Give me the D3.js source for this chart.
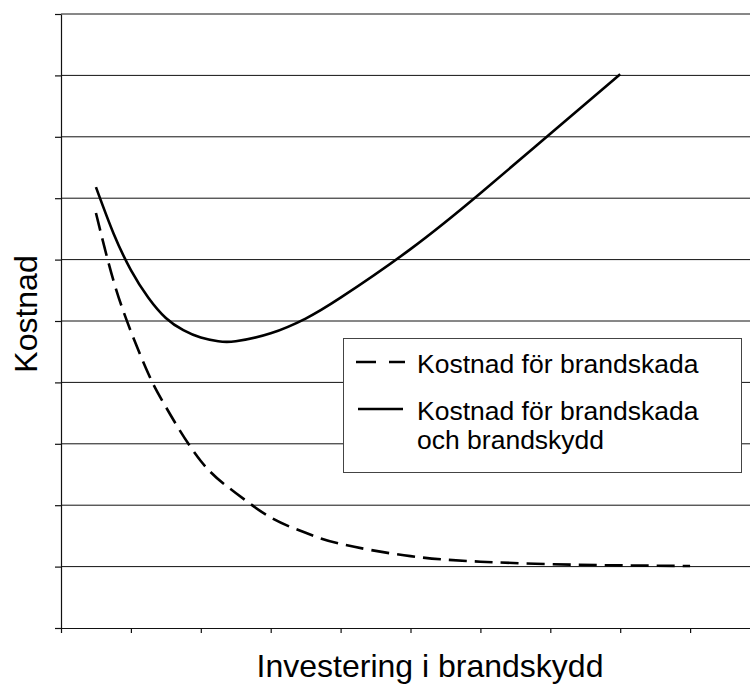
<!DOCTYPE html>
<html>
<head>
<meta charset="utf-8">
<script src="https://cdn.jsdelivr.net/npm/d3@7"></script>
<style>
  html, body { margin: 0; padding: 0; background: #fff; }
  svg { display: block; font-family: "Liberation Sans", Arial, sans-serif; }
</style>
</head>
<body>
<div id="chart"></div>
<script>
// Values (arbitrary units, no tick labels in the original)
const damageX = [0.5, 0.75, 1, 1.25, 1.5, 2, 2.5, 3, 3.5, 4, 5, 6, 7, 8, 9];
const damageY = [6.76, 5.66, 4.83, 4.14, 3.6, 2.72, 2.2, 1.8, 1.55, 1.37, 1.17, 1.08, 1.04, 1.02, 1.01];

const totalX = [0.5, 0.75, 1, 1.25, 1.5, 1.75, 2, 2.25, 2.5, 3, 3.5, 4, 5, 6, 7, 8];
const totalY = [7.18, 6.43, 5.83, 5.38, 5.05, 4.85, 4.73, 4.67, 4.67, 4.8, 5.04, 5.38, 6.17, 7.08, 8.05, 9.02];

const xTicks = [0, 1, 2, 3, 4, 5, 6, 7, 8, 9];
const yTicks = [0, 1, 2, 3, 4, 5, 6, 7, 8, 9, 10];

const legendLabels = [["Kostnad för brandskada"], ["Kostnad för brandskada", "och brandskydd"]];
const xTitle = "Investering i brandskydd";
const yTitle = "Kostnad";

const width = 750, height = 688;
const svg = d3.select("#chart").append("svg")
    .attr("width", width)
    .attr("height", height);

const x = d3.scaleLinear().domain([0, 10]).range([61, 760]);
const y = d3.scaleLinear().domain([0, 10]).range([628, 14]);

// Horizontal gridlines
svg.append("g")
    .selectAll("line")
    .data(yTicks.slice(1))
    .enter()
    .append("line")
    .attr("x1", x(0))
    .attr("x2", width)
    .attr("y1", d => y(d))
    .attr("y2", d => y(d))
    .attr("stroke", "#111")
    .attr("stroke-width", 1);

// Axes (ticks only, no labels)
const xAxis = svg.append("g")
    .attr("transform", `translate(0,${y(0)})`)
    .call(d3.axisBottom(x).tickValues(xTicks).tickFormat("").tickSize(5).tickSizeOuter(0));
const yAxis = svg.append("g")
    .attr("transform", `translate(${x(0)},0)`)
    .call(d3.axisLeft(y).tickValues(yTicks).tickFormat("").tickSize(6).tickSizeOuter(0));
[xAxis, yAxis].forEach(a => {
    a.selectAll("path, line").attr("stroke", "#111").attr("stroke-width", 1.2);
});

const line = d3.line()
    .x(d => x(d[0]))
    .y(d => y(d[1]))
    .curve(d3.curveNatural);

svg.append("path")
    .datum(d3.zip(damageX, damageY))
    .attr("d", line)
    .attr("fill", "none")
    .attr("stroke", "#000")
    .attr("stroke-width", 2.6)
    .attr("stroke-dasharray", "18,8");

svg.append("path")
    .datum(d3.zip(totalX, totalY))
    .attr("d", line)
    .attr("fill", "none")
    .attr("stroke", "#000")
    .attr("stroke-width", 2.6);

// Legend
const legend = svg.append("g");
legend.append("rect")
    .attr("x", 343.5)
    .attr("y", 338.5)
    .attr("width", 398)
    .attr("height", 134)
    .attr("fill", "#fff")
    .attr("stroke", "#444")
    .attr("stroke-width", 1);

legend.append("line")
    .attr("x1", 356).attr("x2", 405)
    .attr("y1", 362).attr("y2", 362)
    .attr("stroke", "#000")
    .attr("stroke-width", 2.6)
    .attr("stroke-dasharray", "20,13");
legend.append("line")
    .attr("x1", 358).attr("x2", 403)
    .attr("y1", 409).attr("y2", 409)
    .attr("stroke", "#000")
    .attr("stroke-width", 2.6);

const legendBaselines = [[373], [420, 449]];
legendLabels.forEach((lines, i) => {
    lines.forEach((t, j) => {
        legend.append("text")
            .attr("x", 417)
            .attr("y", legendBaselines[i][j])
            .attr("font-size", "26.5px")
            .attr("fill", "#000")
            .text(t);
    });
});

// Axis titles
svg.append("text")
    .attr("x", 430)
    .attr("y", 677)
    .attr("text-anchor", "middle")
    .attr("font-size", "32px")
    .attr("fill", "#000")
    .text(xTitle);

svg.append("text")
    .attr("transform", "translate(37,314) rotate(-90)")
    .attr("text-anchor", "middle")
    .attr("font-size", "32px")
    .attr("fill", "#000")
    .text(yTitle);
</script>
</body>
</html>
